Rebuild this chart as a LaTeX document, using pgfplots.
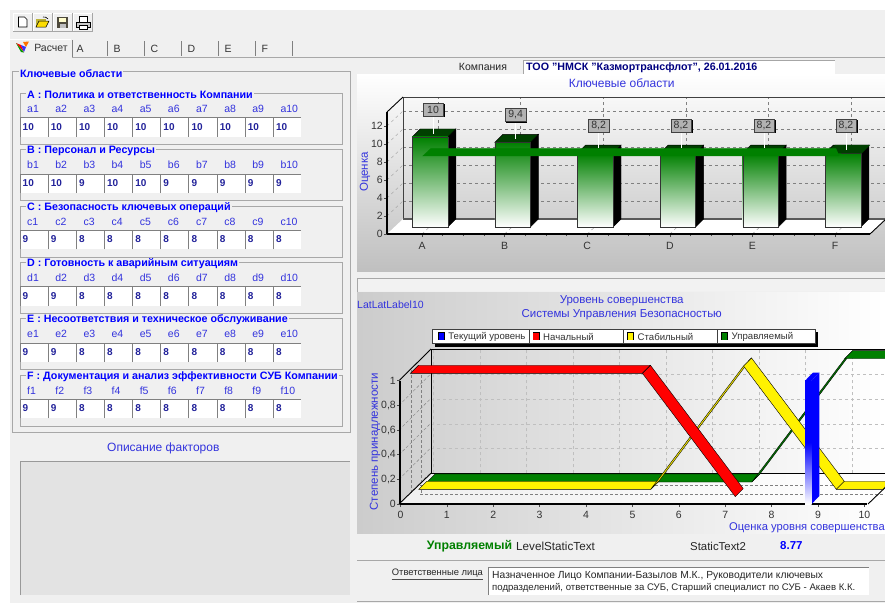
\documentclass[border=0pt]{standalone}
\usepackage{pgfplots}
\pgfplotsset{compat=1.18}
\usepackage{fontspec}
\setmainfont{Liberation Sans}
\definecolor{ui}{HTML}{F0F0F0}
\definecolor{ttl}{HTML}{0000FF}
\definecolor{lab}{HTML}{3333DD}
\definecolor{val}{HTML}{22229A}
\definecolor{dk}{HTML}{333333}
\definecolor{edge}{HTML}{A8A8A8}
\definecolor{gr}{RGB}{0,128,0}
\definecolor{grd}{RGB}{0,64,0}
\newcommand\fs[1]{\fontsize{#1}{#1}\selectfont}
\tikzset{
 L/.style={inner sep=0pt,anchor=west},
 C/.style={inner sep=0pt,anchor=center},
}
\newcommand\grp[4]{% top, letter, title, values
  \draw[edge,line width=.8pt] (20,#1) rectangle (342.7,#1+51);
  \node[L,fill=ui,inner xsep=1pt,text=ttl,font=\fs{10.7}\bfseries] at (26,#1+1.4) {#2 : #3};
  \foreach \v [count=\i] in {#4}{
    \pgfmathsetmacro\xx{20+28.15*(\i-1)}
    \pgfmathsetmacro\lx{27+28.15*(\i-1)}
    \node[L,text height=7.6pt,text depth=0pt,text=lab,font=\fs{10.5}] at (\lx,#1+15.4) {\MakeLowercase{#2}\i};
    \fill[white] (\xx,#1+24.4) rectangle ++(27.8,19);
    \draw[gray,line width=.9pt] (\xx,#1+43.4) -- (\xx,#1+24.4) -- ++(27.8,0);
    \node[L,text=val,font=\fs{10}\bfseries] at (\xx+2.5,#1+33.4) {\v};
  }
}
% one 3-D bar: x, xl, xr, xr+d, xl+d, v, v+dy
\newcommand\Bar[7]{%
  \addplot[fill=black,draw=black,xshift=8pt,yshift=7pt] coordinates {(#3,0)(#4,0.889)(#4,#7)(#3,#6)} -- cycle;
  \addplot[fill=grd,draw=black,xshift=8pt,yshift=7pt] coordinates {(#2,#6)(#3,#6)(#4,#7)(#5,#7)} -- cycle;
  \addplot[ybar,bar width=35.5pt,bar shift=0pt,draw=dk,top color=gr,bottom color=white,xshift=8pt,yshift=7pt] coordinates {(#1,#6)};
}
\begin{document}
\begin{tikzpicture}
\path[use as bounding box] (0pt,0pt) rectangle (885pt,-603pt);
\clip (0pt,0pt) rectangle (885pt,-603pt);
\begin{scope}[x=1pt,y=-1pt]
\fill[white] (0,0) rectangle (885,603);
\fill[ui] (10,10) rectangle (885,603);
% toolbar
\foreach \x in {13,33,53,73}{
  \fill[ui] (\x,13) rectangle ++(19.3,18);
  \draw[gray!70] (\x,31) -- ++(19.3,0) -- ++(0,-18);
  \draw[white] (\x,31) -- ++(0,-18) -- ++(19.3,0);
}
\draw[black,fill=white,line width=.7pt] (18.5,17)--(24.5,17)--(27,19.5)--(27,27)--(18.5,27)--cycle;
\fill[yellow!70!black] (36,19) rectangle (46,27);
\draw[black,fill=yellow!80!orange,line width=.5pt] (36,27)--(39,21)--(49,21)--(46,27)--cycle;
\draw[black,line width=.6pt] (43,17) to[bend left=30] (48,19);
\fill[black!80!yellow] (57,17) rectangle (68,27.5);
\fill[white!80!yellow] (59,17.5) rectangle (66,21.5);
\fill[gray!50] (60,24) rectangle (65.5,27.5);
\draw[black,fill=gray!40,line width=.5pt] (76,22) rectangle (90,27);
\draw[black,fill=white,line width=.5pt] (79,16) rectangle (87,22);
\draw[black,fill=white,line width=.5pt] (79,25) rectangle (87,29);
% tabs
\draw[edge,line width=.8pt] (72,57) -- (885,57);
\draw[white,line width=.8pt] (10,39.5) -- (71,39.5);
\fill[ui] (11,40) rectangle (71.5,58);
\draw[gray,line width=.8pt] (72,40) -- (72,57);
\foreach \x in {107,144,181,218,255,292}{\draw[gray,line width=1pt] (\x,41) -- (\x,56);}
\foreach \x/\t in {76.5/A,113.5/B,150.5/C,187.5/D,224.5/E,261.5/F}{\node[L,text=dk,font=\fs{10.5}] at (\x,49) {\t};}
\node[C,text=dk,font=\fs{10.5}] at (51,47.5) {Расчет};
\fill[orange!90!red] (23,42) -- (29,41.5) -- (26,47) -- cycle;
\fill[red] (16,43) -- (21,45) -- (24,52) -- cycle;
\fill[blue!80] (21,45) -- (26,47) -- (24,52) -- cycle;
\fill[green!60!black] (16,43)--(24,52.5)--(21,52)--cycle;
% left panel
\draw[edge,line width=.8pt] (12.7,71.7) rectangle (350,432.7);
\node[L,fill=ui,inner xsep=1pt,text=ttl,font=\fs{10.7}\bfseries] at (19,73.4) {Ключевые области};
\grp{93.3}{A}{Политика и ответственность Компании}{10,10,10,10,10,10,10,10,10,10}
\grp{149.6}{B}{Персонал и Ресурсы}{10,10,9,10,10,9,9,9,9,9}
\grp{206}{C}{Безопасность ключевых операций}{9,9,8,8,8,8,8,8,8,8}
\grp{262.3}{D}{Готовность к аварийным ситуациям}{9,9,8,8,8,8,8,8,8,8}
\grp{318.6}{E}{Несоответствия и техническое обслуживание}{9,9,8,8,8,8,8,8,8,8}
\grp{375}{F}{Документация и анализ эффективности СУБ Компании}{9,9,8,8,8,8,8,8,8,8}
\node[C,text=lab,font=\fs{12}] at (163.3,448.3) {Описание факторов};
\fill[black!11] (20,461.7) rectangle (350,595);
\draw[gray!80,line width=.9pt] (20,595) -- (20,461.7) -- (350,461.7);
% company
\node[C,text=black!85,font=\fs{10.5}] at (483,66.7) {Компания};
\fill[white] (523,60) rectangle (835,74);
\draw[gray!70,line width=.9pt] (523,74) -- (523,60) -- (835,60);
\node[L,text=blue!50!black,font=\fs{10.7}\bfseries] at (526,67.5) {ТОО "НМСК "Казмортрансфлот", 26.01.2016};
% upper panel
\shade[top color=white,bottom color=black!25] (357,74) rectangle (885,271.7);
\draw[edge] (357,278) rectangle (885,300);
\fill[black!5] (357.5,278.5) rectangle (885,291);
\node[C,text=lab,font=\fs{12}] at (621.7,83.5) {Ключевые области};
\fill[white] (387,234) -- (870,234) -- (886,219) -- (403,219) -- cycle;
\node[C,rotate=90,text=lab,font=\fs{11.5}] at (365,172) {Оценка};
% lower panel
\shade[left color=black!20,right color=white] (357,292) rectangle (885,533);
\node[L,text=lab,font=\fs{10.5}] at (357,305) {LatLatLabel10};
\node[C,text=lab,font=\fs{11.5}] at (621.7,301) {Уровень совершенства};
\node[C,text=lab,font=\fs{11.5}] at (621.7,315) {Системы Управления Безопасностью};
\shade[left color=black!6,right color=white] (399,504) -- (868,504) -- (900,473.3) -- (431,473.3) -- cycle;
\foreach \y in {485,494}{\draw[gray,densely dashed,line width=.4pt] (420,\y) -- (885,\y);}
\foreach \x in {411,421}{\draw[gray,densely dashed,line width=.4pt] (\x,370) -- (\x,493);}
\foreach \y in {504,479.3,454.7,430,405.3,380.7}{\draw[gray,densely dashed,line width=.4pt] (399,\y) -- ++(32,-31.7);}
% bottom strip
\node[L,text=green!50!black,font=\fs{12.3}\bfseries] at (426.7,546) {Управляемый};
\node[L,text=black!85,font=\fs{11.7}] at (516,546) {LevelStaticText};
\node[L,text=black!85,font=\fs{11.4}] at (690,546) {StaticText2};
\node[L,text=ttl,font=\fs{11.5}\bfseries] at (780,546) {8.77};
\draw[edge,line width=.8pt] (357,560.7) -- (885,560.7);
\node[L,text=black!85,font=\fs{9.4}] at (391.7,573.3) {Ответственные лица};
\draw[black!70,line width=.5pt] (391.7,579) -- (483,579);
\fill[white] (488,567.7) rectangle (869,595);
\draw[gray,line width=.8pt] (488,595) -- (488,567.7) -- (869,567.7);
\node[L,text=black!85,font=\fs{10.3}] at (492,576) {Назначенное Лицо Компании-Базылов М.К., Руководители ключевых};
\node[L,text=black!85,font=\fs{9.6}] at (492,587.7) {подразделений, ответственные за СУБ, Старший специалист по СУБ - Акаев К.К.};
\draw[edge,line width=.8pt] (357,601) -- (885,601);
\end{scope}

%%%%%%%% upper chart: rear wall
\begin{axis}[at={(403pt,-219pt)},anchor=south west,scale only axis,width=483pt,height=122pt,
  xmin=-0.424,xmax=5.423,ymin=0,ymax=13.55,
  xtick={0,1,2,3,4,5},ytick={2,4,6,8,10,12},xticklabels={},yticklabels={},
  major tick length=0pt,grid=major,
  major grid style={black!50,dashed,line width=.45pt},
  axis line style={black!75,line width=.9pt}]
\end{axis}
\begin{scope}[x=1pt,y=-1pt]
\draw[black!65,line width=1.6pt] (403,219) -- (886,219);
\foreach \y in {216,198,180,162,144,126}{\draw[black!40,dashed,line width=.4pt] (387,\y) -- ++(16,-15);}
\foreach \x in {422,504.6,587.2,669.8,752.4,835}{\draw[black!40,dashed,line width=.4pt] (\x,234) -- ++(16,-15);}
\draw[black,line width=.9pt] (387,112) -- (403,97);
\draw[black,line width=.9pt] (870,234) -- (886,219);
\end{scope}

%%%%%%%% upper chart: front axis with bars
\begin{axis}[at={(387pt,-234pt)},anchor=south west,scale only axis,width=483pt,height=122pt,
  xmin=-0.424,xmax=5.423,ymin=0,ymax=13.55,clip=false,
  axis x line*=bottom,axis y line*=left,axis line style={-,black,line width=1.2pt},
  xtick={0,1,2,3,4,5},xticklabels={A,B,C,D,E,F},minor x tick num=3,
  ytick={0,2,4,6,8,10,12},tick align=outside,major tick length=3pt,minor tick length=2pt,
  tick style={black!70,line width=.5pt},
  /pgf/number format/assume math mode=true,
  tick label style={font=\fs{10.5},text=dk},
  ticklabel style={inner sep=1pt},
  xticklabel style={yshift=-3.5pt,text height=7.6pt,text depth=0pt}]
\Bar{0}{-0.215}{0.215}{0.312}{-0.118}{10}{10.889}
\Bar{1}{0.785}{1.215}{1.312}{0.882}{9.4}{10.289}
\Bar{2}{1.785}{2.215}{2.312}{1.882}{8.2}{9.089}
\Bar{3}{2.785}{3.215}{3.312}{2.882}{8.2}{9.089}
\Bar{4}{3.785}{4.215}{4.312}{3.882}{8.2}{9.089}
\Bar{5}{4.785}{5.215}{5.312}{4.882}{8.2}{9.089}
% mean ribbon
\addplot[fill=gr,draw=gr,line width=.2pt,xshift=.7pt,yshift=4.2pt] coordinates {(0,8.2)(5.03,8.2)(5.13,9.05)(0.1,9.05)} -- cycle;
\addplot[fill=grd,draw=none,xshift=8pt,yshift=7pt] coordinates {(4.943,8.19)(5.226,8.19)(5.327,9.11)(4.90,9.11)} -- cycle;
\end{axis}
\begin{scope}[x=1pt,y=-1pt]
\foreach \x/\yt/\yb/\t in {433/109.5/134/10,515.7/115/139/{9,4},598.7/125.3/147.7/{8,2},681/125.3/147.7/{8,2},764/125.3/147.7/{8,2},846/125.3/150/{8,2}}{
  \draw[white,line width=.8pt] (\x,\yt) -- (\x,\yb);
  \fill[black] (\x-9.5,\yt-5.7) rectangle (\x+11.5,\yt+7.7);
  \node[C,draw=black!75,fill=black!30,line width=.5pt,minimum width=20.5pt,minimum height=13pt,text=dk,font=\fs{10.5}] at (\x,\yt) {\t};
}
\end{scope}

%%%%%%%% lower chart: rear wall
\begin{axis}[at={(431pt,-473.3pt)},anchor=south west,scale only axis,width=467.3pt,height=124.3pt,
  xmin=-0.05,xmax=10,ymin=0,ymax=1.008,
  xtick={0,1,2,3,4,5,6,7,8,9,10},ytick={0.2,0.4,0.6,0.8},xticklabels={},yticklabels={},
  major tick length=0pt,grid=major,
  major grid style={black!25,dashed,line width=.45pt},
  axis line style={black,line width=.9pt}]
\end{axis}
\begin{scope}[x=1pt,y=-1pt]
\draw[black,line width=.9pt] (399,380.7) -- (431,349);
\draw[black,line width=.9pt] (399,504) -- (431,473.3);
\draw[black,line width=.9pt] (868,504) -- (900,473.3);
\draw[black,line width=.9pt] (431,473.3) -- (900,473.3);
\end{scope}

%%%%%%%% lower chart: front axis with ribbons
\begin{axis}[at={(400pt,-504pt)},anchor=south west,scale only axis,width=467.2pt,height=123.3pt,
  xmin=-0.01,xmax=10.06,ymin=0,ymax=1,clip=false,
  axis x line*=bottom,axis y line*=left,axis line style={-,black,line width=1.4pt},
  xtick={0,1,2,3,4,5,6,7,8,9,10},ytick={0,0.2,0.4,0.6,0.8,1},yticklabels={0,{0,2},{0,4},{0,6},{0,8},1},
  tick align=outside,major tick length=3pt,tick style={black!70,line width=.5pt},
  /pgf/number format/assume math mode=true,
  tick label style={font=\fs{10.5},text=dk},
  ticklabel style={inner sep=1pt},
  xticklabel style={yshift=-3pt,text height=7.6pt,text depth=0pt}]
% Управляемый
\addplot[fill=gr,draw=black,line width=.4pt,xshift=26.7pt,yshift=22pt] coordinates {(0,0)(7,0)(7.172,0.065)(0.172,0.065)} -- cycle;
\addplot[fill=gr,draw=black,line width=.4pt,xshift=26.7pt,yshift=22pt] coordinates {(7,0)(9,1)(9.172,1.065)(7.172,0.065)} -- cycle;
\addplot[fill=gr,draw=black,line width=.4pt,xshift=26.7pt,yshift=22pt] coordinates {(9,1)(10,1)(10.172,1.065)(9.172,1.065)} -- cycle;
% Стабильный
\addplot[fill=yellow,draw=black,line width=.4pt,xshift=18.3pt,yshift=14.7pt] coordinates {(0,0)(5,0)(5.172,0.065)(0.172,0.065)} -- cycle;
\addplot[fill=yellow,draw=black,line width=.4pt,xshift=18.3pt,yshift=14.7pt] coordinates {(5,0)(7,1)(7.172,1.065)(5.172,0.065)} -- cycle;
\addplot[fill=yellow,draw=black,line width=.4pt,xshift=18.3pt,yshift=14.7pt] coordinates {(7,1)(9,0)(9.172,0.065)(7.172,1.065)} -- cycle;
\addplot[fill=yellow,draw=black,line width=.4pt,xshift=18.3pt,yshift=14.7pt] coordinates {(9,0)(10,0)(10.172,0.065)(9.172,0.065)} -- cycle;
% Начальный
\addplot[fill=red,draw=black,line width=.4pt,xshift=10pt,yshift=7.4pt] coordinates {(0,1)(5,1)(5.172,1.065)(0.172,1.065)} -- cycle;
\addplot[fill=red,draw=black,line width=.4pt,xshift=10pt,yshift=7.4pt] coordinates {(5,1)(7,0)(7.172,0.065)(5.172,1.065)} -- cycle;
% Текущий уровень
\addplot[fill=blue,draw=none,xshift=1pt] coordinates {(8.84,0)(9.006,0.065)(9.006,1.065)(8.84,1)} -- cycle;
\addplot[fill=blue,draw=none,xshift=1pt] coordinates {(8.70,1)(8.84,1)(9.006,1.065)(8.866,1.065)} -- cycle;
\addplot[ybar,bar width=6.6pt,bar shift=0pt,draw=none,top color=blue,bottom color=white,middle color=blue,xshift=1pt] coordinates {(8.77,1)};
\end{axis}

\begin{scope}[x=1pt,y=-1pt]
\node[C,rotate=90,text=lab,font=\fs{11.5}] at (375,441.7) {Степень принадлежности};
\node[L,text=lab,font=\fs{11.2}] at (729,527.5) {Оценка уровня совершенства};
% legend
\fill[black] (435,332) rectangle (818,346.5);
\fill[white] (432.3,329.3) rectangle (815,343.3);
\draw[black!75,line width=.7pt] (432.3,329.3) rectangle (815,343.3);
\foreach \x in {529,623,717.3}{\draw[black!75,line width=.7pt] (\x,329.3) -- (\x,343.3);}
\foreach \x/\c/\t in {437.7/blue/Текущий уровень,532.5/red/Начальный,627/yellow/Стабильный,721/gr/Управляемый}{
  \fill[black] (\x,332.3) rectangle ++(7,8);
  \fill[\c] (\x+.8,333.1) rectangle ++(5.4,6.4);
  \node[L,text=dk,font=\fs{9.6}] at (\x+10.5,336.5) {\t};
}
\end{scope}
\end{tikzpicture}
\end{document}
